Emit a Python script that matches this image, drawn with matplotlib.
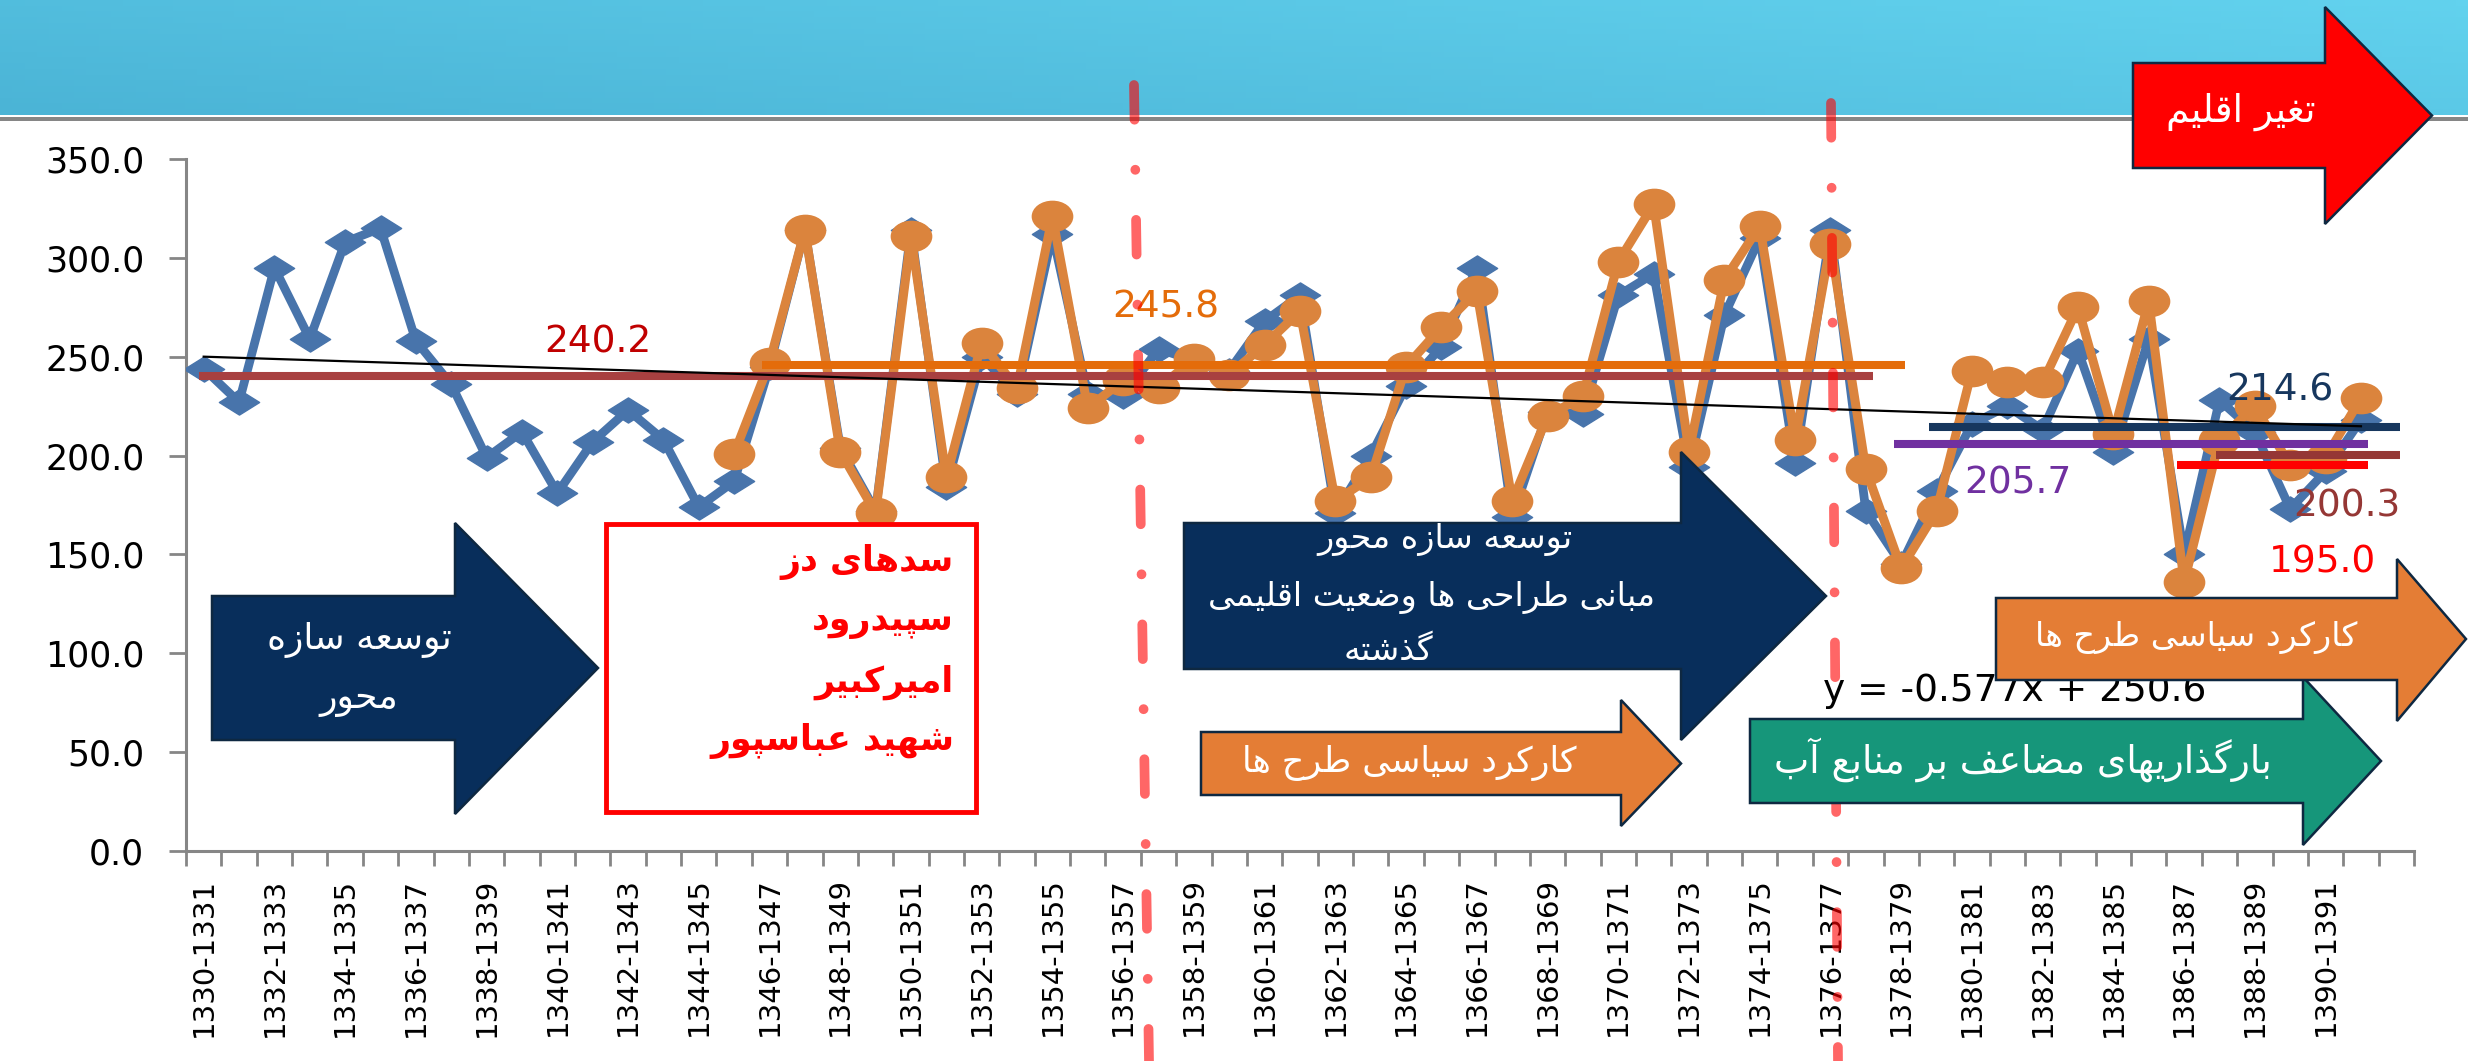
import numpy as np
import matplotlib
matplotlib.use("Agg")
import matplotlib.pyplot as plt
from matplotlib.patches import Polygon, Rectangle
from matplotlib.path import Path
from matplotlib.transforms import Affine2D

plt.rcParams['font.family'] = ['DejaVu Sans']
plt.rcParams['lines.scale_dashes'] = False

# ---------------- data ----------------
categories = [f"{y}-{y+1}" for y in range(1330, 1393)]   # 63 category slots
labeled_categories = categories[0:61:2]                    # 1330-1331 ... 1390-1391
blue_values = [244, 227, 295, 259, 308, 315, 258, 236, 199, 212,
               181, 207, 223, 208, 174, 187, 245, 314, 204, 172,
               314, 184, 250, 231, 312, 231, 230, 254, 248, 243,
               268, 281, 171, 200, 235, 255, 295, 169, 222, 221,
               281, 292, 194, 271, 310, 196, 314, 172, 145, 182,
               216, 225, 213, 253, 202, 259, 150, 228, 212, 173,
               192, 218]
orange_start = 15
orange_values = [201, 247, 314, 202, 171, 311, 189, 257, 234, 321,
                 224, 238, 234, 249, 241, 256, 273, 177, 189, 245,
                 265, 283, 177, 220, 230, 298, 327, 202, 289, 316,
                 208, 307, 193, 143, 172, 243, 237, 237, 275, 211,
                 278, 136, 208, 225, 195, 199, 229]
mean_values = [240.2, 245.8, 214.6, 205.7, 200.3, 195.0]
mean_starts = [-0.13, 15.8, 48.8, 47.8, 56.9, 55.8]
mean_ends = [47.2, 48.1, 62.1, 61.2, 62.1, 61.2]
mean_colors = ['#A84040', '#E46C0A', '#17375E', '#7030A0', '#953735', '#FF0000']
mean_label_text = ['240.2', '245.8', '214.6', '205.7', '200.3', '195.0']
mean_label_x = [11.15, 27.2, 58.7, 51.3, 60.6, 59.9]
mean_label_y = [257, 275, 233, 186, 174, 146]
mean_label_colors = ['#C00000', '#E46C0A', '#17375E', '#7030A0', '#953735', '#FF0000']
trend_slope, trend_intercept = -0.577, 250.6
y_ticks = [0, 50, 100, 150, 200, 250, 300, 350]

# ------------- Persian shaping helper -------------
FORMS = {
 '\u0627': ('\uFE8D', '\uFE8E', None, None), '\u0622': ('\uFE81', '\uFE82', None, None),
 '\u0628': ('\uFE8F', '\uFE90', '\uFE91', '\uFE92'), '\u067E': ('\uFB56', '\uFB57', '\uFB58', '\uFB59'),
 '\u062A': ('\uFE95', '\uFE96', '\uFE97', '\uFE98'), '\u062B': ('\uFE99', '\uFE9A', '\uFE9B', '\uFE9C'),
 '\u062C': ('\uFE9D', '\uFE9E', '\uFE9F', '\uFEA0'), '\u0686': ('\uFB7A', '\uFB7B', '\uFB7C', '\uFB7D'),
 '\u062D': ('\uFEA1', '\uFEA2', '\uFEA3', '\uFEA4'), '\u062E': ('\uFEA5', '\uFEA6', '\uFEA7', '\uFEA8'),
 '\u062F': ('\uFEA9', '\uFEAA', None, None), '\u0630': ('\uFEAB', '\uFEAC', None, None),
 '\u0631': ('\uFEAD', '\uFEAE', None, None), '\u0632': ('\uFEAF', '\uFEB0', None, None),
 '\u0698': ('\uFB8A', '\uFB8B', None, None),
 '\u0633': ('\uFEB1', '\uFEB2', '\uFEB3', '\uFEB4'), '\u0634': ('\uFEB5', '\uFEB6', '\uFEB7', '\uFEB8'),
 '\u0635': ('\uFEB9', '\uFEBA', '\uFEBB', '\uFEBC'), '\u0636': ('\uFEBD', '\uFEBE', '\uFEBF', '\uFEC0'),
 '\u0637': ('\uFEC1', '\uFEC2', '\uFEC3', '\uFEC4'), '\u0638': ('\uFEC5', '\uFEC6', '\uFEC7', '\uFEC8'),
 '\u0639': ('\uFEC9', '\uFECA', '\uFECB', '\uFECC'), '\u063A': ('\uFECD', '\uFECE', '\uFECF', '\uFED0'),
 '\u0641': ('\uFED1', '\uFED2', '\uFED3', '\uFED4'), '\u0642': ('\uFED5', '\uFED6', '\uFED7', '\uFED8'),
 '\u06A9': ('\uFB8E', '\uFB8F', '\uFB90', '\uFB91'), '\u0643': ('\uFED9', '\uFEDA', '\uFEDB', '\uFEDC'),
 '\u06AF': ('\uFB92', '\uFB93', '\uFB94', '\uFB95'), '\u0644': ('\uFEDD', '\uFEDE', '\uFEDF', '\uFEE0'),
 '\u0645': ('\uFEE1', '\uFEE2', '\uFEE3', '\uFEE4'), '\u0646': ('\uFEE5', '\uFEE6', '\uFEE7', '\uFEE8'),
 '\u0647': ('\uFEE9', '\uFEEA', '\uFEEB', '\uFEEC'), '\u0648': ('\uFEED', '\uFEEE', None, None),
 '\u06CC': ('\uFBFC', '\uFBFD', '\uFBFE', '\uFBFF'), '\u064A': ('\uFEF1', '\uFEF2', '\uFEF3', '\uFEF4'),
}


def fa(s):
    out = []
    n = len(s)
    for k, c in enumerate(s):
        if c not in FORMS:
            out.append(c)
            continue
        f = FORMS[c]
        prev = s[k - 1] if k > 0 else ''
        nxt = s[k + 1] if k < n - 1 else ''
        jp = prev in FORMS and FORMS[prev][2] is not None
        jn = f[2] is not None and nxt in FORMS
        if jp and jn:
            out.append(f[3])
        elif jp:
            out.append(f[1])
        elif jn:
            out.append(f[2])
        else:
            out.append(f[0])
    return ''.join(reversed(out))


# ---------------- figure ----------------
W, H = 2468, 1061
fig = plt.figure(figsize=(W / 100, H / 100), dpi=100)
fig.patch.set_facecolor('white')
ax = fig.add_axes([186 / W, 1 - 851 / H, (2414 - 186) / W, (851 - 159) / H])
ax.set_zorder(1)

BLUE = '#4874AB'
ORANGE = '#DB843D'
diamond = Path([(-1.6, 0), (0, 1), (1.6, 0), (0, -1), (-1.6, 0)],
               [Path.MOVETO, Path.LINETO, Path.LINETO, Path.LINETO, Path.CLOSEPOLY])
ellipse = Affine2D().scale(1.33, 1).transform_path(Path.unit_circle())

xb = np.arange(len(blue_values))
ax.plot(xb, blue_values, color=BLUE, lw=6.3, marker=diamond, ms=29,
        mfc=BLUE, mec=BLUE, solid_joinstyle='round', zorder=3)
xo = np.arange(orange_start, orange_start + len(orange_values))
ax.plot(xo, orange_values, color=ORANGE, lw=6.5, marker=ellipse, ms=29,
        mfc=ORANGE, mec=ORANGE, solid_joinstyle='round', zorder=4)

for v, x0, x1, c in zip(mean_values, mean_starts, mean_ends, mean_colors):
    ax.plot([x0, x1], [v, v], color=c, lw=5.8, solid_capstyle='butt', zorder=5)

xt = np.array([0, len(blue_values) - 1])
ax.plot(xt, trend_slope * (xt + 1) + trend_intercept, color='black', lw=1.6, zorder=6)

for t, x, y, c in zip(mean_label_text, mean_label_x, mean_label_y, mean_label_colors):
    ax.text(x, y, t, color=c, fontsize=27, ha='center', va='center', zorder=7)
ax.text(51.2, 81, 'y = -0.577x + 250.6', color='black', fontsize=27,
        ha='center', va='center', zorder=7)

ax.set_xlim(-0.5, len(categories) - 0.5)
ax.set_ylim(0, 350)
ax.set_yticks(y_ticks)
ax.set_yticklabels([f"{v:.1f}" for v in y_ticks], fontsize=25)
ax.set_xticks(np.arange(0, 61, 2))
ax.set_xticklabels(labeled_categories, rotation=90, fontsize=21, va='top')
ax.set_xticks(np.arange(-0.5, len(categories), 1), minor=True)
ax.tick_params(axis='x', which='major', length=0, pad=19)
ax.tick_params(axis='x', which='minor', length=11, width=2, color='#868686', direction='out')
ax.tick_params(axis='y', length=12, width=2, color='#868686', pad=18)
for s in ['top', 'right']:
    ax.spines[s].set_visible(False)
for s in ['left', 'bottom']:
    ax.spines[s].set_color('#868686')
    ax.spines[s].set_linewidth(2.2)
ax.patch.set_alpha(0)

# ---------------- overlay (pixel coordinates) ----------------
ov = fig.add_axes([0, 0, 1, 1])
ov.set_zorder(5)
ov.axis('off')
ov.patch.set_alpha(0)

# header gradient
gx = np.linspace(0, 1, 200)[None, :]
gy = np.linspace(0, 1, 20)[:, None]
tt = np.clip(0.7 * gx + 0.3 * (1 - gy), 0, 1)
c0 = np.array([75, 180, 214]) / 255
c1 = np.array([98, 210, 238]) / 255
grad = c0[None, None, :] * (1 - tt[..., None]) + c1[None, None, :] * tt[..., None]
ov.imshow(grad, extent=(0, W, 115, 0), aspect='auto', zorder=0)
ov.add_patch(Rectangle((0, 117), W, 4, color='#868686', zorder=1, lw=0))
ov.set_xlim(0, W)
ov.set_ylim(H, 0)

# vertical dash-dot separators
for (xa, ya, xb_, yb) in [(1134, 85, 1149, 1061), (1831, 103, 1838, 1061)]:
    ov.plot([xa, xb_], [ya, yb], color='red', alpha=0.6, lw=7,
            dash_capstyle='round', linestyle=(0, (25, 36, 0.1, 36)), zorder=2)

EDGE = '#0E2841'
NAVY = '#082E5B'


def arrow(x0, x1, top, bot, htop, hbot, tip, fc, z=3):
    yc = (top + bot) / 2
    pts = [(x0, top), (x1, top), (x1, htop), (tip, yc), (x1, hbot), (x1, bot), (x0, bot)]
    ov.add_patch(Polygon(pts, closed=True, fc=fc, ec=EDGE, lw=1.8, zorder=z))


# left navy arrow
arrow(212, 455, 596, 740, 523, 814, 598, NAVY)
ov.text(359, 640, fa('توسعه سازه'), color='white', fontsize=26, ha='center', va='center', zorder=6)
ov.text(359, 700, fa('محور'), color='white', fontsize=26, ha='center', va='center', zorder=6)

# red box
ov.add_patch(Rectangle((606, 524), 370, 288, fc='white', ec='#FF0000', lw=3.5, zorder=3))
for t, y in zip(['سدهای دز', 'سپیدرود', 'امیرکبیر', 'شهید عباسپور'], [562, 622, 682, 741]):
    ov.text(954, y, fa(t), color='#FF0000', fontsize=25, fontweight='bold',
            ha='right', va='center', zorder=6)

# middle navy arrow
arrow(1184, 1681, 523, 669, 452, 740, 1826, NAVY)
ov.text(1445, 540, fa('توسعه سازه محور'), color='white', fontsize=24, ha='center', va='center', zorder=6)
ov.text(1432, 598, fa('مبانی طراحی ها وضعیت اقلیمی'), color='white', fontsize=24, ha='center', va='center', zorder=6)
ov.text(1388, 650, fa('گذشته'), color='white', fontsize=24, ha='center', va='center', zorder=6)

# orange arrow (middle)
arrow(1201, 1621, 732, 795, 700, 826, 1681, '#E47D35')
ov.text(1409, 763, fa('کارکرد سیاسی طرح ها'), color='white', fontsize=25, ha='center', va='center', zorder=6)

# green arrow
arrow(1750, 2303, 719, 803, 677, 845, 2381, '#16967A')
ov.text(2023, 760, fa('بارگذاریهای مضاعف بر منابع آب'), color='white', fontsize=27, ha='center', va='center', zorder=6)

# right orange arrow
arrow(1996, 2397, 598, 680, 559, 721, 2466, '#E47D35')
ov.text(2196, 638, fa('کارکرد سیاسی طرح ها'), color='white', fontsize=24, ha='center', va='center', zorder=6)

# red climate-change arrow
arrow(2133, 2325, 63, 168, 7, 224, 2432, '#FF0000')
ov.text(2241, 112, fa('تغیر اقلیم'), color='white', fontsize=27, ha='center', va='center', zorder=6)

fig.savefig('out.png', dpi=100, facecolor='white')
